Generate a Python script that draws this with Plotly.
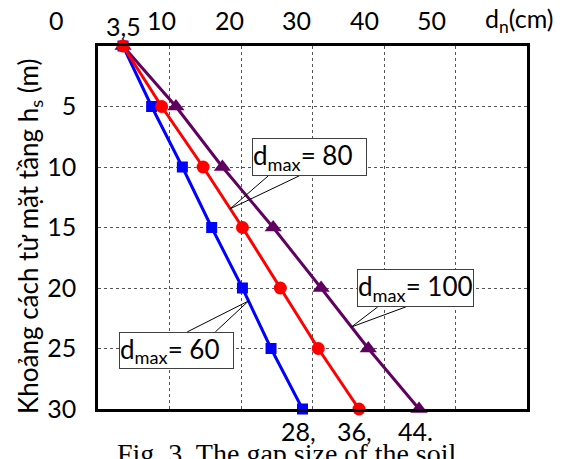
import numpy as np
import plotly.graph_objects as go

# ---- data ----
depth = [0, 5, 10, 15, 20, 25, 30]            # h_s (m)
dn_60 = [3.5, 7.5, 11.8, 15.9, 20.2, 24.2, 28.6]
dn_80 = [3.5, 8.9, 14.7, 20.2, 25.5, 30.8, 36.5]
dn_100 = [3.5, 10.9, 17.4, 24.5, 31.2, 37.8, 44.9]
series_names = ["d<sub>max</sub>= 60", "d<sub>max</sub>= 80", "d<sub>max</sub>= 100"]
x_tick_labels = ["0", "10", "20", "30", "40", "50", "d<sub>n</sub>(cm)"]
y_tick_vals = [5, 10, 15, 20, 25, 30]
end_labels = ["28,", "36,", "44."]
start_label = "3,5"
y_title = "Khoảng cách từ mặt tầng h<sub>s</sub> (m)"
caption = "Fig. 3. The gap size of the soil"

X_MAX = 60
FONT = "Lato, 'Open Sans', sans-serif"
FS = 25
colors = ["#0000FF", "#FF0000", "#600060"]
symbols = ["square", "circle", "triangle-up"]
msizes = [11, 13, 15]

fig = go.Figure()
for vals, c, s, ms, nm in [(dn_60, colors[0], symbols[0], msizes[0], series_names[0]),
                          (dn_100, colors[2], symbols[2], msizes[2], series_names[2]),
                          (dn_80, colors[1], symbols[1], msizes[1], series_names[1])]:
    fig.add_trace(go.Scatter(x=vals, y=depth, mode="lines+markers", name=nm,
                             line=dict(color=c, width=3),
                             marker=dict(symbol=s, size=ms, color=c),
                             cliponaxis=False, showlegend=False))

# top labels (x positions in data units, style)
top_label_x = [-5.75, 8.84, 18.4, 27.8, 37.3, 46.7, 58.9]
annotations = []
for t, xx in zip(x_tick_labels, top_label_x):
    annotations.append(dict(text=t, x=xx / X_MAX, y=1.073, xref="paper", yref="paper",
                            showarrow=False, xanchor="center", yanchor="middle",
                            font=dict(family=FONT, size=FS, color="black")))
annotations.append(dict(text=start_label, x=dn_60[0], y=1.056, xref="x", yref="paper",
                        showarrow=False, xanchor="center", yanchor="middle",
                        font=dict(family=FONT, size=FS, color="black")))
for t, vals in zip(end_labels, [dn_60, dn_80, dn_100]):
    annotations.append(dict(text=t, x=vals[-1], y=-0.06, xref="x", yref="paper",
                            xshift=-4, showarrow=False, xanchor="center", yanchor="middle",
                            font=dict(family=FONT, size=FS, color="black")))
annotations.append(dict(text=y_title, x=-0.16, y=0.475, xref="paper", yref="paper",
                        textangle=-90, showarrow=False, xanchor="center", yanchor="middle",
                        font=dict(family=FONT, size=26, color="black")))
annotations.append(dict(text=caption, x=0.44, y=-0.075, xref="paper", yref="paper",
                        showarrow=False, xanchor="center", yanchor="top",
                        font=dict(family="'Liberation Serif', 'Times New Roman', serif",
                                  size=28, color="black")))

# callouts: (series, name, box centre x, box centre y, box w, box h, base x1, base x2, base y, tip y)
callouts = [
    (dn_60, series_names[0], 11.01, 25.17, 113, 35, 12.48, 16.41, 23.63, 21.07),
    (dn_80, series_names[1], 29.52, 9.15, 113, 36, 23.84, 28.19, 10.72, 13.45),
    (dn_100, series_names[2], 44.46, 19.99, 115, 36, 39.13, 43.06, 21.56, 23.22),
]
shapes = []
for vals, nm, bx, by, bw, bh, x1, x2, yb, ty in callouts:
    tx = float(np.interp(ty, depth, vals))
    shapes.append(dict(type="path", xref="x", yref="y",
                       path=f"M {x1},{yb} L {tx},{ty} L {x2},{yb}",
                       line=dict(color="black", width=1)))
    annotations.append(dict(text=nm, x=bx, y=by, xref="x", yref="y", showarrow=False,
                            xanchor="center", yanchor="middle", width=bw, height=bh,
                            align="left", bgcolor="white", bordercolor="#404040",
                            borderwidth=1, borderpad=0,
                            font=dict(family=FONT, size=26, color="black")))

fig.update_layout(
    width=571, height=459,
    margin=dict(l=90, r=52, t=38, b=58),
    paper_bgcolor="white", plot_bgcolor="white",
    font=dict(family=FONT, size=FS, color="black"),
    annotations=annotations, shapes=shapes,
    xaxis=dict(range=[0, X_MAX], tickvals=[10, 20, 30, 40, 50], showticklabels=False,
               showgrid=True, gridcolor="#555555", griddash="dot", gridwidth=1,
               showline=True, linecolor="black", linewidth=2.5, mirror=True,
               zeroline=False, ticks=""),
    yaxis=dict(range=[30, 0], tickvals=y_tick_vals, ticktext=[str(v) for v in y_tick_vals],
               showgrid=True, gridcolor="#555555", griddash="dot", gridwidth=1,
               showline=True, linecolor="black", linewidth=2.5, mirror=True,
               zeroline=False, ticks="outside", ticklen=14, tickcolor="rgba(0,0,0,0)",
               tickfont=dict(family=FONT, size=FS, color="black")),
)

fig.write_html("out.html")
